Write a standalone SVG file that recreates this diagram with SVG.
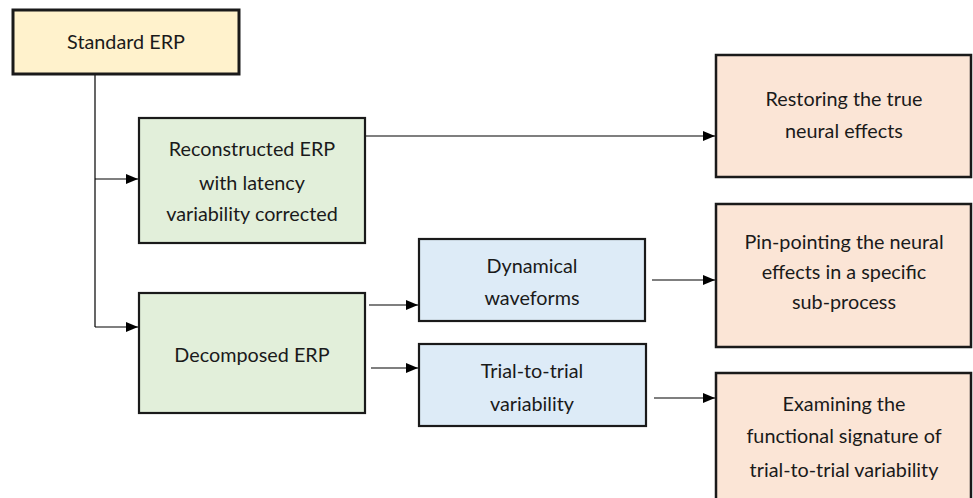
<svg xmlns="http://www.w3.org/2000/svg" width="973" height="498" viewBox="0 0 973 498">
<style>
.box{stroke:#1a1a1a;stroke-width:2.2}
.y{fill:#FFF2CC;stroke-width:3}
.g{fill:#E2EFDA}
.b{fill:#DDEBF7}
.p{fill:#FBE5D6;stroke-width:2.5}
text{font-family:Lato,"Open Sans","Liberation Sans",sans-serif;font-size:19.8px;fill:#1a1a1a;text-anchor:middle}
.c{stroke:#000;stroke-width:1.2;fill:none}
</style>
<defs>
<marker id="ah" markerUnits="userSpaceOnUse" markerWidth="13" markerHeight="10" refX="12" refY="5" orient="auto">
<path d="M0,0 L12,5 L0,10 z" fill="#000"/>
</marker>
</defs>
<g id="connectors">
<path class="c" d="M95,74 V327"/>
<path class="c" d="M95,179 H138" marker-end="url(#ah)"/>
<path class="c" d="M95,327 H138" marker-end="url(#ah)"/>
<path class="c" d="M365,136 H715" marker-end="url(#ah)"/>
<path class="c" d="M369,305 H418" marker-end="url(#ah)"/>
<path class="c" d="M371,368 H418" marker-end="url(#ah)"/>
<path class="c" d="M652,280 H715" marker-end="url(#ah)"/>
<path class="c" d="M654,398 H715" marker-end="url(#ah)"/>
</g>
<g id="standard-erp">
<rect class="box y" x="13" y="10" width="226" height="64"/>
<text x="126" y="49">Standard ERP</text>
</g>
<g id="reconstructed-erp">
<rect class="box g" x="139" y="118" width="226" height="125"/>
<text x="252" y="156">Reconstructed ERP</text>
<text x="252" y="190">with latency</text>
<text x="252" y="221">variability corrected</text>
</g>
<g id="decomposed-erp">
<rect class="box g" x="139" y="293" width="226" height="120"/>
<text x="252" y="362">Decomposed ERP</text>
</g>
<g id="dynamical-waveforms">
<rect class="box b" x="419" y="239" width="226" height="82"/>
<text x="532" y="273">Dynamical</text>
<text x="532" y="305">waveforms</text>
</g>
<g id="trial-variability">
<rect class="box b" x="419" y="344" width="227" height="82"/>
<text x="532" y="378">Trial-to-trial</text>
<text x="532" y="411">variability</text>
</g>
<g id="restoring">
<rect class="box p" x="716" y="55" width="255" height="122"/>
<text x="844" y="106">Restoring the true</text>
<text x="844" y="138">neural effects</text>
</g>
<g id="pin-pointing">
<rect class="box p" x="716" y="204" width="255" height="143"/>
<text x="844" y="249">Pin-pointing the neural</text>
<text x="844" y="279">effects in a specific</text>
<text x="844" y="309">sub-process</text>
</g>
<g id="examining">
<rect class="box p" x="716" y="373" width="255" height="135"/>
<text x="844" y="411">Examining the</text>
<text x="844" y="443">functional signature of</text>
<text x="844" y="477">trial-to-trial variability</text>
</g>
</svg>
